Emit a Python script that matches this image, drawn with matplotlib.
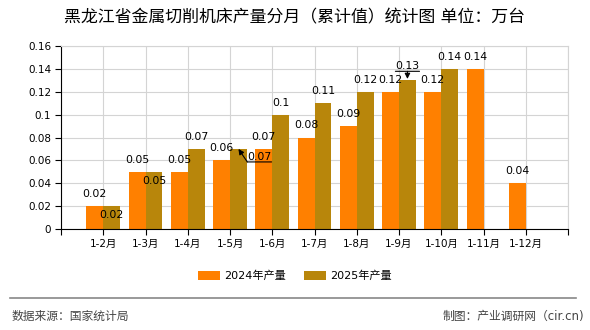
import numpy as np
import matplotlib
matplotlib.use('Agg')
import matplotlib.pyplot as plt
from matplotlib.lines import Line2D

plt.rcParams['font.family'] = ['DejaVu Sans', 'Noto Sans CJK SC']

# 分月累计产量（万台）
months = ['1-2月', '1-3月', '1-4月', '1-5月', '1-6月', '1-7月', '1-8月',
          '1-9月', '1-10月', '1-11月', '1-12月']
output_2024 = [0.02, 0.05, 0.05, 0.06, 0.07, 0.08, 0.09, 0.12, 0.12, 0.14, 0.04]
output_2025 = [0.02, 0.05, 0.07, 0.07, 0.1, 0.11, 0.12, 0.13, 0.14, None, None]

color_2024 = '#ff8000'
color_2025 = '#b8860b'
width = 0.4

fig = plt.figure(figsize=(5.9, 3.3), dpi=100)
ax = fig.add_axes([61 / 590, 1 - 229 / 330, 507 / 590, 183 / 330])

x = np.arange(len(months))
v24 = np.array(output_2024, dtype=float)
v25 = np.array(output_2025, dtype=float)
m25 = ~np.isnan(v25)

ax.bar(x - width / 2, v24, width, color=color_2024, label='2024年产量', zorder=2)
ax.bar(x[m25] + width / 2, v25[m25], width, color=color_2025, label='2025年产量', zorder=2)

ax.set_xlim(-1, len(months))
ax.set_ylim(0, 0.16)
ax.set_xticks(np.arange(-1, len(months) + 1))
ax.set_xticklabels([''] + months + [''], fontsize=7.5)
yt = np.arange(0, 0.161, 0.02)
ax.set_yticks(yt)
ax.set_yticklabels([f'{v:.2f}'.rstrip('0').rstrip('.') for v in yt], fontsize=7.5)
ax.tick_params(length=4, width=0.8, color='black', pad=3)
ax.grid(color='#d4d4d4', lw=0.8)
ax.set_axisbelow(True)
for s in ['top', 'right']:
    ax.spines[s].set_color('#d4d4d4')
for s in ['left', 'bottom']:
    ax.spines[s].set_color('black')

# 数值标签（像素偏移）
label_kw = dict(textcoords='offset pixels', ha='center', va='center', fontsize=7.8, zorder=4)
for i, v in enumerate(v24):
    ax.annotate(f'{v:g}', xy=(i - width / 2, v), xytext=(0, 12), **label_kw)

below = {0: -9, 1: -9}
for i, v in enumerate(v25):
    if np.isnan(v) or i in (3, 7):
        continue
    ax.annotate(f'{v:g}', xy=(i + width / 2, v), xytext=(0, below.get(i, 12)), **label_kw)

# 1-5月 带引线的标签
t = ax.annotate(f'{v25[3]:g}', xy=(3 + width / 2, v25[3]), xytext=(21, -8), **label_kw)
t.set_bbox(dict(boxstyle='square,pad=0.2', fc='none', ec='none'))
ax.annotate('', xy=(1, 0), xycoords=t, xytext=(0, 0), textcoords=t,
            arrowprops=dict(arrowstyle='-', color='black', lw=0.8, shrinkA=0, shrinkB=0))
ax.annotate('', xy=(3 + width / 2, v25[3]), xytext=(0, 0), textcoords=t,
            arrowprops=dict(arrowstyle='-|>', color='black', lw=0.8, shrinkA=0, shrinkB=0,
                            mutation_scale=8))

# 1-9月 带引线的标签
t = ax.annotate(f'{v25[7]:g}', xy=(7 + width / 2, v25[7]), xytext=(0, 14), **label_kw)
t.set_bbox(dict(boxstyle='square,pad=0.2', fc='none', ec='none'))
ax.annotate('', xy=(1, 0), xycoords=t, xytext=(0, 0), textcoords=t,
            arrowprops=dict(arrowstyle='-', color='black', lw=0.8, shrinkA=0, shrinkB=0))
ax.annotate('', xy=(7 + width / 2, v25[7]), xytext=(0.5, 0), textcoords=t,
            arrowprops=dict(arrowstyle='-|>', color='black', lw=0.8, shrinkA=0, shrinkB=1,
                            mutation_scale=8))

fig.text(0.5, 1 - 17 / 330, '黑龙江省金属切削机床产量分月（累计值）统计图 单位：万台',
         ha='center', va='center', fontsize=12.2)

fig.legend(loc='center', bbox_to_anchor=(0.5, 1 - 276 / 330), ncol=2, frameon=False,
           fontsize=8, handlelength=2.0, handleheight=0.8, handletextpad=0.4,
           columnspacing=1.6)

fig.add_artist(Line2D([10 / 590, 576 / 590], [1 - 298 / 330] * 2, color='#888888', lw=1.2))
fig.text(12 / 590, 1 - 316 / 330, '数据来源：国家统计局', ha='left', va='center',
         fontsize=8.5, color='#444444')
fig.text(584 / 590, 1 - 316 / 330, '制图：产业调研网（cir.cn)', ha='right', va='center',
         fontsize=8.5, color='#444444')

fig.savefig('out.png', dpi=100)
